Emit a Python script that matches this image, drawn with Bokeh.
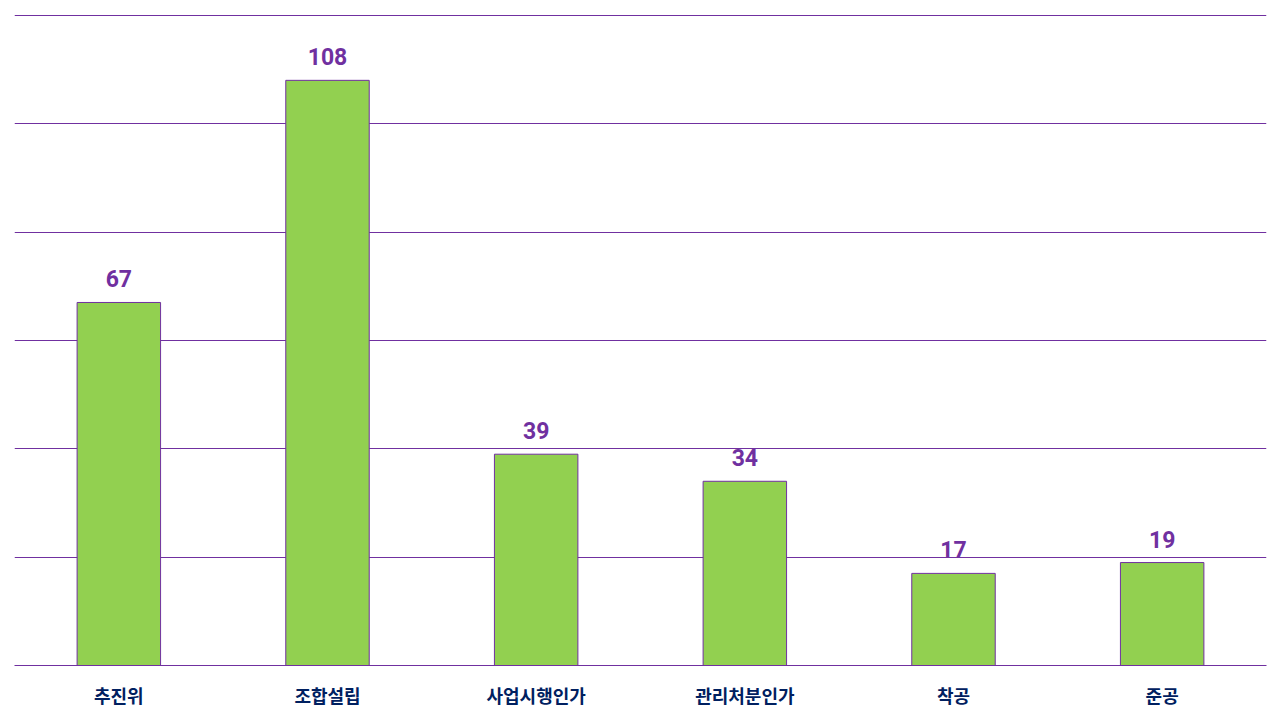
from bokeh.plotting import figure
from bokeh.models import ColumnDataSource, LabelSet, Range1d, FactorRange, SingleIntervalTicker
from bokeh.core.properties import value
from bokeh.embed import file_html
from bokeh.resources import INLINE

categories = ["추진위", "조합설립", "사업시행인가", "관리처분인가", "착공", "준공"]
values = [67, 108, 39, 34, 17, 19]
labels = [str(v) for v in values]

src = ColumnDataSource(dict(cat=categories, val=values, lab=labels))

p = figure(x_range=FactorRange(*categories, range_padding=0), y_range=Range1d(0, 120.15),
           width=1280, height=720, output_backend="svg", toolbar_location=None,
           min_border_left=14, min_border_right=14, min_border_top=14, min_border_bottom=55)
p.outline_line_color = None
p.background_fill_color = "white"

p.vbar(x="cat", top="val", width=0.4, source=src, fill_color="#92D050",
       line_color="#7030A0", line_width=1)

p.yaxis.visible = False
p.yaxis.ticker = SingleIntervalTicker(interval=20)
p.ygrid.ticker = SingleIntervalTicker(interval=20)
p.ygrid.grid_line_color = "#7030A0"
p.ygrid.grid_line_width = 1
p.xgrid.grid_line_color = None

p.xaxis.axis_line_color = "#7030A0"
p.xaxis.major_tick_line_color = None
p.xaxis.minor_tick_line_color = None
p.xaxis.major_label_text_font = "Noto Sans CJK KR"
p.xaxis.major_label_text_font_style = "bold"
p.xaxis.major_label_text_font_size = "18px"
p.xaxis.major_label_text_color = "#002060"
p.xaxis.major_label_standoff = 10

ls = LabelSet(x="cat", y="val", text="lab", source=src, text_align="center",
              text_baseline="bottom", y_offset=15, text_font=value("Roboto"),
              text_font_style="bold", text_font_size="23px", text_color="#7030A0")
p.add_layout(ls)

open("out.html", "w").write(file_html(p, INLINE))
